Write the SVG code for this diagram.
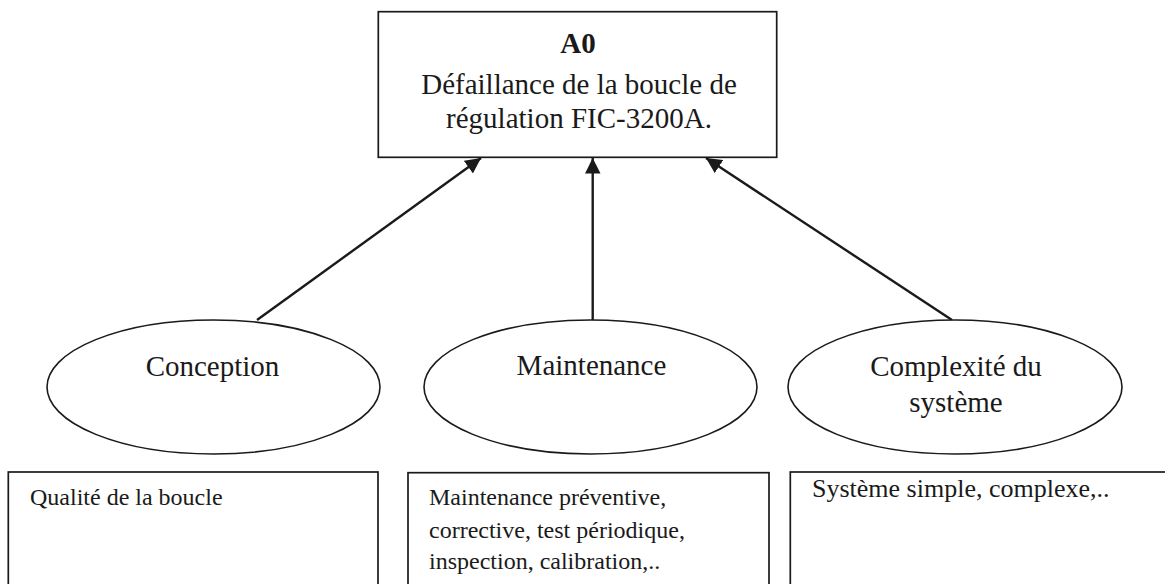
<svg xmlns="http://www.w3.org/2000/svg" width="1165" height="584" viewBox="0 0 1165 584">
  <style>
    .box { fill: #fff; stroke: #1a1a1a; stroke-width: 1.7; }
    .ell { fill: #fff; stroke: #1a1a1a; stroke-width: 1.6; }
    .lbl { font-family: "Liberation Serif", "Times New Roman", serif; fill: #1a1a1a; }
    .big { font-size: 29px; text-anchor: middle; }
    .small { font-size: 24px; }
    .link { stroke: #1a1a1a; stroke-width: 2.4; fill: none; marker-end: url(#head); }
  </style>
  <defs>
    <marker id="head" viewBox="0 0 10 10" refX="10" refY="5" markerWidth="6.5" markerHeight="6.5" markerUnits="strokeWidth" orient="auto">
      <path d="M0,0 L10,5 L0,10 Z" fill="#1a1a1a"/>
    </marker>
  </defs>
  <rect width="1165" height="584" fill="#fff"/>

  <!-- connectors: causes pointing up to the top event -->
  <g id="connectors">
    <line class="link" x1="257" y1="320" x2="481" y2="158"/>
    <line class="link" x1="592.7" y1="320" x2="592.7" y2="158"/>
    <line class="link" x1="952" y1="320" x2="706" y2="158"/>
  </g>

  <!-- top event -->
  <g id="a0">
    <rect class="box" x="378.3" y="11.7" width="398.4" height="145.6"/>
    <text class="lbl big" x="578" y="53" font-weight="bold">A0</text>
    <text class="lbl big" x="579" y="94">Défaillance de la boucle de</text>
    <text class="lbl big" x="579" y="128">régulation FIC-3200A.</text>
  </g>

  <!-- cause categories -->
  <g id="conception">
    <ellipse class="ell" cx="213.5" cy="387" rx="166.5" ry="67"/>
    <text class="lbl big" x="212.5" y="376">Conception</text>
  </g>
  <g id="maintenance">
    <ellipse class="ell" cx="590.5" cy="387" rx="166.5" ry="67"/>
    <text class="lbl big" x="591.5" y="375">Maintenance</text>
  </g>
  <g id="complexite">
    <ellipse class="ell" cx="955" cy="387" rx="167" ry="67"/>
    <text class="lbl big" x="956" y="376">Complexité du</text>
    <text class="lbl big" x="956" y="411.5">système</text>
  </g>

  <!-- detail boxes -->
  <g id="detail-conception">
    <rect class="box" x="8.3" y="472" width="369.7" height="130"/>
    <text class="lbl small" x="30" y="505">Qualité de la boucle</text>
  </g>
  <g id="detail-maintenance">
    <rect class="box" x="408" y="472.7" width="361" height="130"/>
    <text class="lbl small" x="429" y="505">Maintenance préventive,</text>
    <text class="lbl small" x="429" y="537.5">corrective, test périodique,</text>
    <text class="lbl small" x="429" y="569">inspection, calibration,..</text>
  </g>
  <g id="detail-complexite">
    <rect class="box" x="790.3" y="472" width="380" height="130"/>
    <text class="lbl" x="812" y="497" font-size="26">Système simple, complexe,..</text>
  </g>
</svg>
